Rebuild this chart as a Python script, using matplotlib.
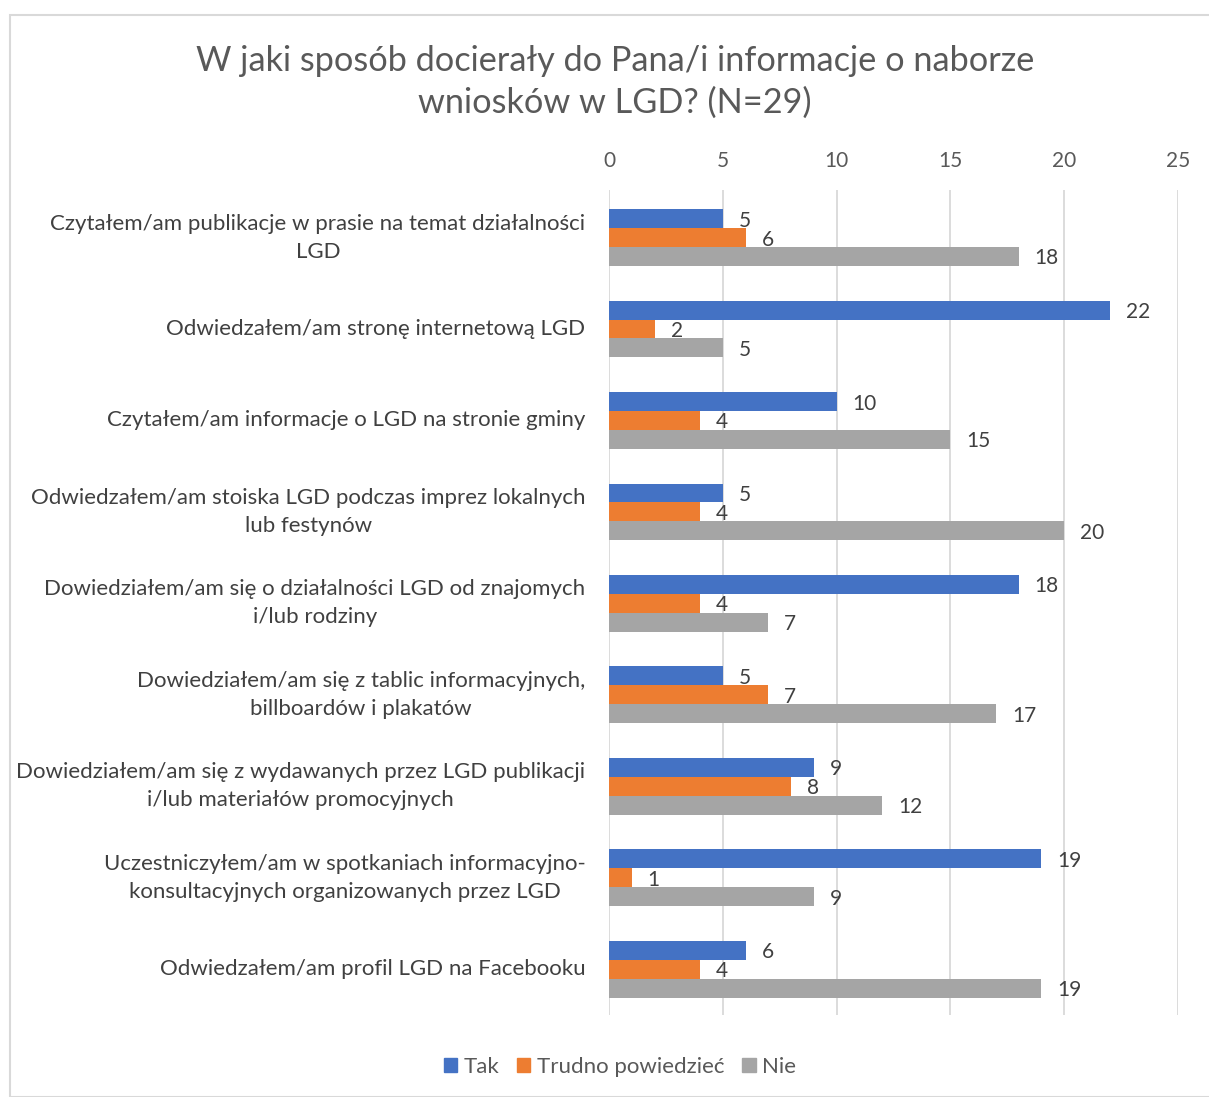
import matplotlib
matplotlib.use("Agg")
import matplotlib.pyplot as plt
from matplotlib.patches import Rectangle
import numpy as np

plt.rcParams['font.family'] = ['Lato', 'DejaVu Sans']

categories = [
    "Czytałem/am publikacje w prasie na temat działalności\nLGD",
    "Odwiedzałem/am stronę internetową LGD",
    "Czytałem/am informacje o LGD na stronie gminy",
    "Odwiedzałem/am stoiska LGD podczas imprez lokalnych\nlub festynów",
    "Dowiedziałem/am się o działalności LGD od znajomych\ni/lub rodziny",
    "Dowiedziałem/am się z tablic informacyjnych,\nbillboardów i plakatów",
    "Dowiedziałem/am się z wydawanych przez LGD publikacji\ni/lub materiałów promocyjnych",
    "Uczestniczyłem/am w spotkaniach informacyjno-\nkonsultacyjnych organizowanych przez LGD",
    "Odwiedzałem/am profil LGD na Facebooku",
]
tak = [5, 22, 10, 5, 18, 5, 9, 19, 6]
trudno = [6, 2, 4, 4, 4, 7, 8, 1, 4]
nie = [18, 5, 15, 20, 7, 17, 12, 9, 19]
series_names = ["Tak", "Trudno powiedzieć", "Nie"]
colors = ["#4472C4", "#ED7D31", "#A5A5A5"]
xticks = [0, 5, 10, 15, 20, 25]

W, H = 1209, 1097
fig = plt.figure(figsize=(W / 100, H / 100), dpi=100)
fig.patch.set_facecolor("white")
# outer border
fig.patches.append(Rectangle((10 / W, 0), 1.2, 1 - 15 / H, transform=fig.transFigure,
                             fill=False, edgecolor="#D9D9D9", linewidth=1.5))

left = 609 / W
right = 1178 / W
top = 1 - 190 / H
bottom = 1 - 1015 / H
ax = fig.add_axes([left, bottom, right - left, top - bottom])

y = np.arange(len(categories))
h = 0.207
for i, (vals, c) in enumerate(zip([tak, trudno, nie], colors)):
    ys = y + (i - 1) * h
    ax.barh(ys, vals, height=h, color=c, label=series_names[i], zorder=3)
    for yy, v in zip(ys, vals):
        ax.annotate(str(v), (v, yy), xytext=(16, -2), textcoords="offset pixels",
                    ha="left", va="center", fontsize=15, color="#404040")

ax.set_xlim(0, 25)
ax.set_ylim(len(categories) - 0.5, -0.52)
ax.set_xticks(xticks)
ax.xaxis.tick_top()
ax.tick_params(axis="x", length=0, pad=14, labelsize=15, labelcolor="#595959")
ax.set_yticks(y)
ax.set_yticklabels(categories, fontsize=16, color="#404040", ha="right", va="center",
                   multialignment="center", linespacing=1.5)
ax.tick_params(axis="y", length=0, pad=17)
ax.grid(axis="x", color="#D9D9D9", linewidth=1.3, zorder=0)
for s in ax.spines.values():
    s.set_visible(False)

fig.text(615 / W, 1 - 82 / H, "W jaki sposób docierały do Pana/i informacje o naborze\nwniosków w LGD? (N=29)",
         ha="center", va="center", fontsize=24.7, color="#595959", linespacing=1.4)

handles = [Rectangle((0, 0), 1, 1, color=c) for c in colors]
fig.legend(handles, series_names, loc="center", bbox_to_anchor=(620 / W, 1 - 1067 / H),
           ncol=3, frameon=False, fontsize=16, handlelength=0.6, handleheight=0.6,
           handletextpad=0.3, columnspacing=0.8, labelcolor="#595959")

fig.savefig("out.png", dpi=100)
